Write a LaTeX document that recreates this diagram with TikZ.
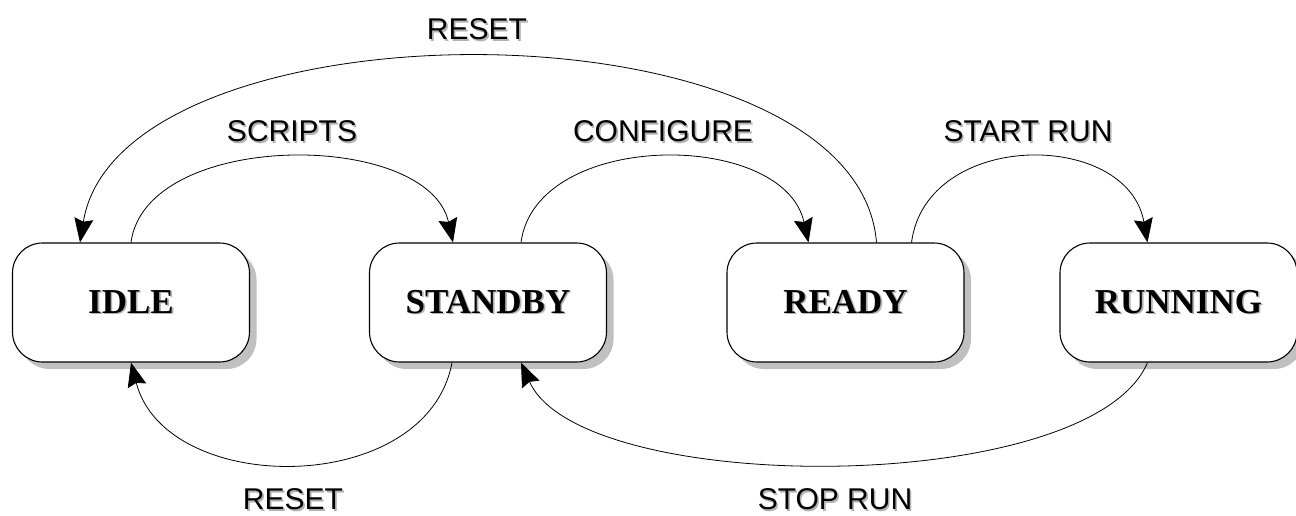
\documentclass[tikz,border=0pt]{standalone}
\usepackage{fontspec}
\usetikzlibrary{arrows.meta,shadows}
\newfontfamily\boxfont{Liberation Serif}
\newfontfamily\lblfont{Liberation Sans}
\newcommand\shtext[1]{\makebox[0pt][l]{\hspace{1.6pt}\raisebox{-1.6pt}{\textcolor{black!30}{#1}}}#1}
\definecolor{shadowgray}{RGB}{192,192,192}
\begin{document}
\begin{tikzpicture}[x=1pt,y=-1pt,
  state/.style={draw=black, line width=1.1pt, fill=white, rounded corners=30pt,
    minimum width=237pt, minimum height=119pt, inner sep=0pt,
    font=\boxfont\bfseries\fontsize{35}{40}\selectfont,
    drop shadow={shadow xshift=7pt, shadow yshift=-7pt, fill=shadowgray, opacity=1}},
  lbl/.style={inner sep=0pt, font=\lblfont\fontsize{30}{34}\selectfont},
  conn/.style={line width=0.8pt, -{Stealth[length=24pt,width=19pt,inset=3pt]}}]
\useasboundingbox (0,0) rectangle (1296,516);
\fill[white] (0,0) rectangle (1296,516);

\node[state] (idle)    at (131,302.5)   {\shtext{IDLE}};
\node[state] (standby) at (488,302.5)   {\shtext{STANDBY}};
\node[state] (ready)   at (845.5,302.5) {\shtext{READY}};
\node[state] (running) at (1178.5,302.5){\shtext{RUNNING}};

% top arcs
\draw[conn] (idle.north) .. controls +(15,-113) and +(-25,-113) .. ([xshift=-35pt]standby.north);
\draw[conn] ([xshift=33pt]standby.north) .. controls +(15,-113) and +(-25,-113) .. ([xshift=-37pt]ready.north);
\draw[conn] ([xshift=66pt]ready.north) .. controls +(15,-113) and +(-20,-113) .. ([xshift=-31pt]running.north);
\draw[conn] ([xshift=31pt]ready.north) .. controls +(-20,-247) and +(40,-247) .. ([xshift=-51pt]idle.north);

% bottom arcs
\draw[conn] ([xshift=-36pt]standby.south) .. controls +(-25,135) and +(35,135) .. (idle.south);
\draw[conn] ([xshift=-31pt]running.south) .. controls +(-57,135) and +(60,135) .. ([xshift=33pt]standby.south);

% labels
\node[lbl] (lscripts) at (292,132)  {\shtext{SCRIPTS}};
\node[lbl] (lconfig)  at (663,132)  {\shtext{CONFIGURE}};
\node[lbl] (lstart)   at (1028,132) {\shtext{START RUN}};
\node[lbl] (lresett)  at (477,30)   {\shtext{RESET}};
\node[lbl] (lresetb)  at (293,500)  {\shtext{RESET}};
\node[lbl] (lstop)    at (835,500)  {\shtext{STOP RUN}};
\end{tikzpicture}
\end{document}
